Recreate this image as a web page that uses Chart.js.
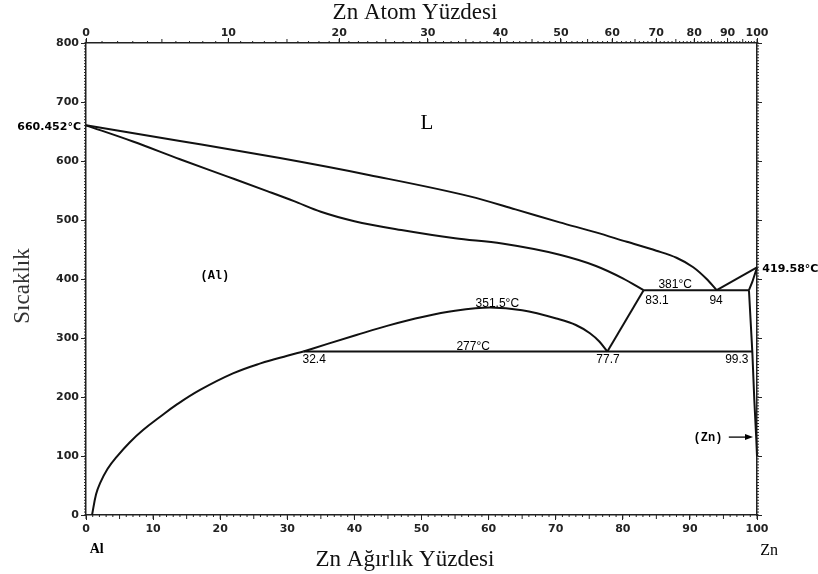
<!DOCTYPE html>
<html>
<head>
<meta charset="utf-8">
<script src="https://cdn.jsdelivr.net/npm/chart.js@4.4.1/dist/chart.umd.min.js"></script>
<style>
  html, body { margin: 0; padding: 0; background: #fff; }
  #wrap { width: 818px; height: 574px; }
</style>
</head>
<body>
<div id="wrap"><canvas id="myChart" width="818" height="574"></canvas></div>
<script>
// Al-Zn faz diyagramı, x = Zn ağırlık %, y = sıcaklık (°C)
const weightTicks = [0, 10, 20, 30, 40, 50, 60, 70, 80, 90, 100];
const atomTicks = [0, 10, 20, 30, 40, 50, 60, 70, 80, 90, 100];
const tempTicks = [0, 100, 200, 300, 400, 500, 600, 700, 800];

const liquidusAlX = [0, 14, 28.9, 42.3, 57.2, 64, 70.6, 76, 80.6, 85, 88, 90.5, 92.5, 94];
const liquidusAlY = [660.452, 634, 605, 576, 540, 518, 496, 479, 463, 448, 436, 420, 400, 381];

const solidusAlX = [0, 7, 14, 21, 27, 31, 35, 40, 47, 55, 62, 70.6, 76, 80, 83.1];
const solidusAlY = [660.452, 633, 603, 574, 549, 532, 514, 498, 483, 469, 460, 441, 422, 401, 381];

const gapX = [32.4, 36, 40.3, 45, 50.3, 55, 60.2, 65, 70.1, 73, 75.1, 76.5, 77.7];
const gapY = [277, 290, 305, 321, 336, 346, 351.5, 347, 333, 322, 308, 294, 277];

const solvusAlX = [0.9, 1.5, 2.1, 3.2, 4.6, 6.5, 8.5, 11, 13.5, 17, 21.9, 26, 30, 32.4];
const solvusAlY = [0, 35, 54, 78, 99, 123, 144, 166, 187, 212, 240, 257, 270, 277];

const monotectoidX = [77.7, 83.1];
const monotectoidY = [277, 381];

const eutectoidX = [32.4, 99.3];
const eutectoidY = [277, 277];

const eutecticX = [83.1, 98.8];
const eutecticY = [381, 381];

const liquidusZnX = [94, 100];
const liquidusZnY = [381, 419.58];

const solidusZnX = [98.8, 99.3, 100];
const solidusZnY = [381, 395, 419.58];

const solvusZnX = [98.8, 99.3, 99.6, 99.9, 100];
const solvusZnY = [381, 277, 195, 127, 100];

// metin etiketleri (veri koordinatlarında)
const notes = [
  { text: "L", x: 50.8, y: 664, font: "21px 'Liberation Serif'" },
  { text: "(Al)", x: 19.2, y: 405, font: "bold 12px 'Liberation Mono'" },
  { text: "351.5°C", x: 61.3, y: 359, font: "12px 'Liberation Sans'" },
  { text: "277°C", x: 57.7, y: 285, font: "12px 'Liberation Sans'" },
  { text: "32.4", x: 34, y: 263, font: "12px 'Liberation Sans'" },
  { text: "77.7", x: 77.8, y: 263, font: "12px 'Liberation Sans'" },
  { text: "381°C", x: 87.8, y: 390, font: "12px 'Liberation Sans'" },
  { text: "83.1", x: 85.1, y: 364, font: "12px 'Liberation Sans'" },
  { text: "94", x: 93.9, y: 364, font: "12px 'Liberation Sans'" },
  { text: "99.3", x: 97, y: 264, font: "12px 'Liberation Sans'" },
  { text: "(Zn)", x: 92.7, y: 130.5, font: "bold 12px 'Liberation Mono'" },
  { text: "660.452°C", x: -0.75, y: 657.5, font: "bold 11px 'DejaVu Sans'", align: "right" },
  { text: "419.58°C", x: 100.8, y: 417, font: "bold 11px 'DejaVu Sans'", align: "left" },
  { text: "Al", x: 1.6, y: -59, font: "bold 14px 'Liberation Serif'" },
  { text: "Zn", x: 101.8, y: -61, font: "16px 'Liberation Serif'" }
];

function atomToWeight(a) {
  const zn = a * 65.38;
  const al = (100 - a) * 26.982;
  return zn / (zn + al) * 100;
}

function toPoints(xs, ys) {
  return xs.map((x, i) => ({ x: x, y: ys[i] }));
}

// smooth: "mono" = monoton kübik, "bezier" = gerilimli eğri, yoksa düz çizgi
function curve(xs, ys, smooth) {
  return {
    data: toPoints(xs, ys),
    showLine: true,
    borderColor: "#111",
    borderWidth: 2,
    pointRadius: 0,
    fill: false,
    clip: 4,
    tension: smooth === "bezier" ? 0.4 : 0,
    cubicInterpolationMode: smooth === "mono" ? "monotone" : "default"
  };
}

const diagramExtras = {
  id: "diagramExtras",
  afterDraw(chart) {
    const ctx = chart.ctx;
    const a = chart.chartArea;
    const sx = chart.scales.x;
    const sx2 = chart.scales.x2;
    const sy = chart.scales.y;

    ctx.save();
    ctx.strokeStyle = "#222";
    ctx.lineWidth = 1;
    ctx.beginPath();
    for (let v = 0; v <= 100; v++) {
      const px = sx.getPixelForValue(v);
      const len = v % 5 === 0 ? 4 : 2;
      ctx.moveTo(px, a.bottom);
      ctx.lineTo(px, a.bottom + len);
    }
    for (let v = 0; v <= 100; v++) {
      const px = sx2.getPixelForValue(atomToWeight(v));
      const len = v % 5 === 0 ? 4 : 2;
      ctx.moveTo(px, a.top);
      ctx.lineTo(px, a.top - len);
    }
    for (let t = 0; t <= 800; t += 5) {
      const py = sy.getPixelForValue(t);
      ctx.moveTo(a.left, py);
      ctx.lineTo(a.left - 2, py);
      ctx.moveTo(a.right, py);
      ctx.lineTo(a.right + 2, py);
    }
    ctx.stroke();

    ctx.fillStyle = "#000";
    ctx.textBaseline = "middle";
    notes.forEach((n) => {
      ctx.font = n.font;
      ctx.textAlign = n.align || "center";
      ctx.fillText(n.text, sx.getPixelForValue(n.x), sy.getPixelForValue(n.y));
    });

    // (Zn) oku
    const ay = sy.getPixelForValue(132);
    const ax0 = sx.getPixelForValue(95.8);
    const ax1 = sx.getPixelForValue(100) - 4;
    ctx.beginPath();
    ctx.lineWidth = 1.5;
    ctx.moveTo(ax0, ay);
    ctx.lineTo(ax1 - 5, ay);
    ctx.stroke();
    ctx.beginPath();
    ctx.moveTo(ax1, ay);
    ctx.lineTo(ax1 - 8, ay - 3);
    ctx.lineTo(ax1 - 8, ay + 3);
    ctx.closePath();
    ctx.fill();

    // eksen başlıkları
    ctx.fillStyle = "#111";
    ctx.font = "23px 'Liberation Serif'";
    ctx.textAlign = "center";
    ctx.fillText("Zn Atom Yüzdesi", 415, 13);
    ctx.fillText("Zn Ağırlık Yüzdesi", 405, 560);
    ctx.save();
    ctx.translate(23, 286);
    ctx.rotate(-Math.PI / 2);
    ctx.fillStyle = "#333";
    ctx.fillText("Sıcaklık", 0, 0);
    ctx.restore();

    ctx.restore();
  }
};

const tickFont = { family: "'DejaVu Sans'", size: 11, weight: "bold" };

const ctx = document.getElementById("myChart").getContext("2d");

const myChart = new Chart(ctx, {
  type: "scatter",
  data: {
    datasets: [
      curve(liquidusAlX, liquidusAlY, "mono"),
      curve(solidusAlX, solidusAlY, "mono"),
      curve(gapX, gapY, "mono"),
      curve(solvusAlX, solvusAlY, "bezier"),
      curve(monotectoidX, monotectoidY),
      curve(eutectoidX, eutectoidY),
      curve(eutecticX, eutecticY),
      curve(liquidusZnX, liquidusZnY),
      curve(solidusZnX, solidusZnY),
      curve(solvusZnX, solvusZnY)
    ]
  },
  options: {
    responsive: false,
    maintainAspectRatio: false,
    animation: false,
    layout: { padding: 0, autoPadding: false },
    plugins: {
      legend: { display: false },
      tooltip: { enabled: false }
    },
    scales: {
      x: {
        type: "linear",
        position: "bottom",
        min: 0,
        max: 100,
        afterBuildTicks: (s) => { s.ticks = weightTicks.map((v) => ({ value: v })); },
        ticks: { font: tickFont, color: "#222", padding: 3, maxRotation: 0, autoSkip: false },
        grid: { drawOnChartArea: false, tickLength: 5, tickColor: "#222" },
        border: { color: "#222", width: 1.5 },
        afterFit: (s) => { s.height = 59; }
      },
      x2: {
        type: "linear",
        position: "top",
        min: 0,
        max: 100,
        afterBuildTicks: (s) => { s.ticks = atomTicks.map((a) => ({ value: atomToWeight(a) })); },
        ticks: {
          font: tickFont,
          color: "#222",
          padding: -2,
          maxRotation: 0,
          autoSkip: false,
          callback: (v, i) => atomTicks[i]
        },
        grid: { drawOnChartArea: false, tickLength: 5, tickColor: "#222" },
        border: { color: "#222", width: 1.5 },
        afterFit: (s) => { s.height = 43; }
      },
      y: {
        type: "linear",
        position: "left",
        min: 0,
        max: 800,
        afterBuildTicks: (s) => { s.ticks = tempTicks.map((v) => ({ value: v })); },
        ticks: { font: tickFont, color: "#222", padding: 2 },
        grid: { drawOnChartArea: false, tickLength: 5, tickColor: "#222" },
        border: { color: "#222", width: 1.5 },
        afterFit: (s) => { s.width = 86; }
      },
      y2: {
        type: "linear",
        position: "right",
        min: 0,
        max: 800,
        afterBuildTicks: (s) => { s.ticks = tempTicks.map((v) => ({ value: v })); },
        ticks: { display: false },
        grid: { drawOnChartArea: false, tickLength: 5, tickColor: "#222" },
        border: { color: "#222", width: 1.5 },
        afterFit: (s) => { s.width = 61; }
      }
    }
  },
  plugins: [diagramExtras]
});
</script>
</body>
</html>
